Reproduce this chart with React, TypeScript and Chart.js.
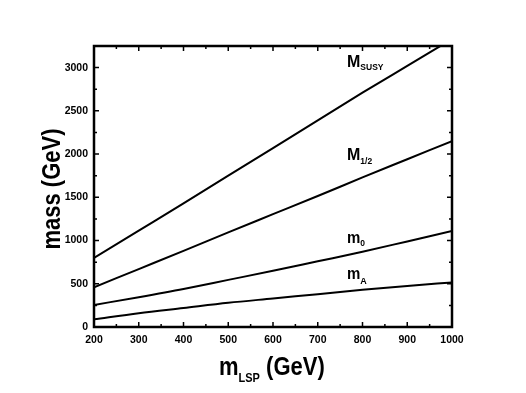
import React, { useEffect, useRef } from 'react';
import { Chart, registerables } from 'chart.js';

Chart.register(...registerables);

// m_LSP (GeV)
const mLSP = [200, 300, 400, 500, 600, 700, 800, 900, 1000];
// masses (GeV)
const M_SUSY = [800, 1115, 1430, 1750, 2070, 2390, 2710, 3020, 3330];
const M_HALF = [460, 670, 880, 1095, 1305, 1515, 1730, 1940, 2150];
const M_0 = [255, 345, 440, 545, 650, 760, 870, 990, 1110];
const M_A = [90, 160, 220, 280, 330, 380, 430, 475, 515];

// tick labels
const X_TICKS = [200, 300, 400, 500, 600, 700, 800, 900, 1000];
const Y_TICKS = [0, 500, 1000, 1500, 2000, 2500, 3000];

const X_MIN = 200;
const X_MAX = 1000;
const Y_MIN = 0;
const Y_MAX = 3250;

const FONT = "'Liberation Sans', Arial, Helvetica, sans-serif";

function drawSub(
  ctx: CanvasRenderingContext2D,
  x: number,
  y: number,
  main: string,
  sub: string,
  mainSize: number,
  subSize: number,
  subDrop: number,
  rest?: string,
  stretch = 1
) {
  ctx.save();
  ctx.translate(x, y);
  ctx.scale(1, stretch);
  ctx.font = `bold ${mainSize}px ${FONT}`;
  ctx.fillText(main, 0, 0);
  let cx = ctx.measureText(main).width;
  ctx.font = `bold ${subSize}px ${FONT}`;
  ctx.fillText(sub, cx, subDrop / stretch);
  cx += ctx.measureText(sub).width;
  if (rest) {
    ctx.font = `bold ${mainSize}px ${FONT}`;
    ctx.fillText(rest, cx, 0);
  }
  ctx.restore();
}

const decorPlugin = {
  id: 'decor',
  afterDraw(chart: any) {
    const { ctx, chartArea } = chart;
    const xs = chart.scales.x;
    const ys = chart.scales.y;
    const { left, right, top, bottom } = chartArea;
    ctx.save();
    ctx.strokeStyle = '#000';
    ctx.fillStyle = '#000';
    // inward ticks
    ctx.lineWidth = 1.5;
    ctx.beginPath();
    for (let v = X_MIN; v <= X_MAX; v += 50) {
      const px = xs.getPixelForValue(v);
      const len = v % 100 === 0 ? 5 : 3;
      ctx.moveTo(px, bottom);
      ctx.lineTo(px, bottom - len);
      ctx.moveTo(px, top);
      ctx.lineTo(px, top + len);
    }
    for (let v = Y_MIN; v <= Y_MAX; v += 250) {
      const py = ys.getPixelForValue(v);
      const len = v % 500 === 0 ? 5 : 3;
      ctx.moveTo(left, py);
      ctx.lineTo(left + len, py);
      ctx.moveTo(right, py);
      ctx.lineTo(right - len, py);
    }
    ctx.stroke();
    // frame
    ctx.lineWidth = 2.5;
    ctx.strokeRect(left, top, right - left, bottom - top);

    // curve labels
    ctx.textAlign = 'left';
    ctx.textBaseline = 'alphabetic';
    drawSub(ctx, 347, 67, 'M', 'SUSY', 16, 8.5, 3, undefined, 1.05);
    drawSub(ctx, 347, 160, 'M', '1/2', 16, 8.5, 4, undefined, 1.05);
    drawSub(ctx, 347, 243, 'm', '0', 15, 8.5, 3, undefined, 1.1);
    drawSub(ctx, 347, 279, 'm', 'A', 15, 9, 5, undefined, 1.1);

    // x axis title
    drawSub(ctx, 219, 375, 'm', 'LSP', 22, 11, 7, ' (GeV)', 1.15);

    // y axis title
    ctx.save();
    ctx.translate(60, 189);
    ctx.rotate(-Math.PI / 2);
    ctx.scale(1, 1.2);
    ctx.textAlign = 'center';
    ctx.font = `bold 22px ${FONT}`;
    ctx.fillText('mass (GeV)', 0, 0);
    ctx.restore();

    ctx.restore();
  },
};

export default function App() {
  const ref = useRef<HTMLCanvasElement | null>(null);

  useEffect(() => {
    if (!ref.current) return;
    const mk = (data: number[]) => ({
      data: mLSP.map((x, i) => ({ x, y: data[i] })),
      borderColor: '#000',
      borderWidth: 2,
      pointRadius: 0,
      fill: false,
      cubicInterpolationMode: 'monotone',
      clip: 0,
    });
    const tickFont = { family: FONT, size: 10.5, weight: 'bold' };
    const chart = new Chart(ref.current, {
      type: 'line',
      data: {
        datasets: [mk(M_SUSY), mk(M_HALF), mk(M_0), mk(M_A)],
      },
      options: {
        animation: false,
        responsive: false,
        layout: { padding: { top: 46, right: 74, left: 0, bottom: 0 } },
        plugins: {
          legend: { display: false },
          tooltip: { enabled: false },
        },
        scales: {
          x: {
            type: 'linear',
            min: X_MIN,
            max: X_MAX,
            grid: { display: false, drawTicks: false },
            border: { display: false },
            afterBuildTicks: (s: any) => {
              s.ticks = X_TICKS.map((value) => ({ value }));
            },
            ticks: {
              padding: 7,
              color: '#000',
              font: tickFont,
              maxRotation: 0,
              autoSkip: false,
              callback: (v: any) => String(v),
            },
            afterFit: (s: any) => {
              s.height = 66;
            },
          },
          y: {
            type: 'linear',
            min: Y_MIN,
            max: Y_MAX,
            grid: { display: false, drawTicks: false },
            border: { display: false },
            afterBuildTicks: (s: any) => {
              s.ticks = Y_TICKS.map((value) => ({ value }));
            },
            ticks: {
              padding: 6,
              color: '#000',
              font: tickFont,
              autoSkip: false,
              callback: (v: any) => String(v),
            },
            afterFit: (s: any) => {
              s.width = 94;
            },
          },
        },
      },
      plugins: [decorPlugin],
    } as any);
    return () => chart.destroy();
  }, []);

  return (
    <div style={{ position: 'absolute', left: 0, top: 0, width: 526, height: 393, background: '#fff' }}>
      <canvas ref={ref} width={526} height={393} style={{ display: 'block' }} />
    </div>
  );
}
